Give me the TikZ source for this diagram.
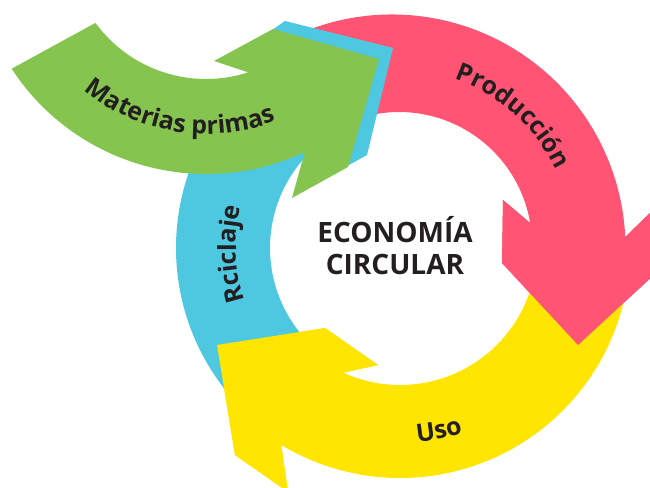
\documentclass[tikz,border=0pt]{standalone}
\usepackage{fontspec}
\setmainfont{Open Sans}
\usetikzlibrary{decorations.text}
\definecolor{cgreen}{RGB}{134,196,80}
\definecolor{cblue}{RGB}{78,199,224}
\definecolor{cpink}{RGB}{255,84,116}
\definecolor{cyellow}{RGB}{255,229,0}
\definecolor{ctext}{RGB}{35,31,32}
\tikzset{
  arclabel/.style={decorate, decoration={text along path, text align=center,
     text color=ctext, text={|\fontsize{25}{25}\selectfont\bfseries|#1}}},
  centrelabel/.style={font=\fontsize{28}{32}\selectfont\bfseries, text=ctext,
     align=center, inner sep=0pt}
}
\begin{document}
\begin{tikzpicture}[x=1pt,y=-1pt]
\useasboundingbox (0,0) rectangle (650,487);
\clip (0,0) rectangle (650,487);
% pink arrow (Producción)
\fill[cpink] ([shift={(392,248)}]-118:233.5) arc[start angle=-118, end angle=-2.7, radius=233.5]
  -- (656,207) -- (656,273) -- (578,345) -- (502,263) -- (503,200)
  -- ([shift={(399,245)}]-9.5:133) arc[start angle=-9.5, end angle=-118, radius=133] -- cycle;
% yellow arrow (Uso)
\fill[cyellow] ([shift={(400,248)}]8:230) arc[start angle=8, end angle=121.1, radius=230]
  -- (288,492) -- (235,455) -- (217,345) -- (325,328) -- (378,365)
  -- ([shift={(400,248)}]114.5:137) arc[start angle=114.5, end angle=8, radius=137] -- cycle;
% blue arrow (Rciclaje)
\fill[cblue] ([shift={(405,248)}]138:229) arc[start angle=138, end angle=230, radius=229]
  -- (232,58) -- (285,21) -- (393,48) -- (367,155) -- (311,186)
  -- ([shift={(405,248)}]233.1:135) arc[start angle=233.1, end angle=138, radius=135] -- cycle;
% pink head over yellow tail
\fill[cpink] ([shift={(392,248)}]-2.7:233.5) -- (656,207) -- (656,273) -- (578,345)
  -- (502,263) -- (503,200) -- ([shift={(399,245)}]-9.5:133) -- cycle;
% yellow head over blue tail
\fill[cyellow] ([shift={(400,248)}]121.1:230) -- (288,492) -- (235,455) -- (217,345)
  -- (325,328) -- (378,365) -- ([shift={(400,248)}]114.5:137) -- cycle;
% green arrow (Materias primas)
\fill[cgreen] ([shift={(206,-58)}]146.9:232) arc[start angle=146.9, end angle=64.8, radius=232]
  -- (292,198) -- (348,167) -- (379,59) -- (273,29) -- (214,61)
  -- ([shift={(206,-58)}]72.1:137) arc[start angle=72.1, end angle=143.8, radius=137] -- cycle;
% labels
\path[arclabel={Materias primas}] ([shift={(206,-58)}]140:192) arc[start angle=140, end angle=58, radius=192];
\path[arclabel={Producción}] ([shift={(396,246)}]-85:177) arc[start angle=-85, end angle=-11, radius=177];
\path[arclabel={Uso}] ([shift={(400,248)}]100:195) arc[start angle=100, end angle=56, radius=195];
\path[arclabel={Rciclaje}] ([shift={(405,248)}]150:169) arc[start angle=150, end angle=206, radius=169];
\node[centrelabel] (centre) at (395,246) {ECONOMÍA\\CIRCULAR};
\end{tikzpicture}
\end{document}
